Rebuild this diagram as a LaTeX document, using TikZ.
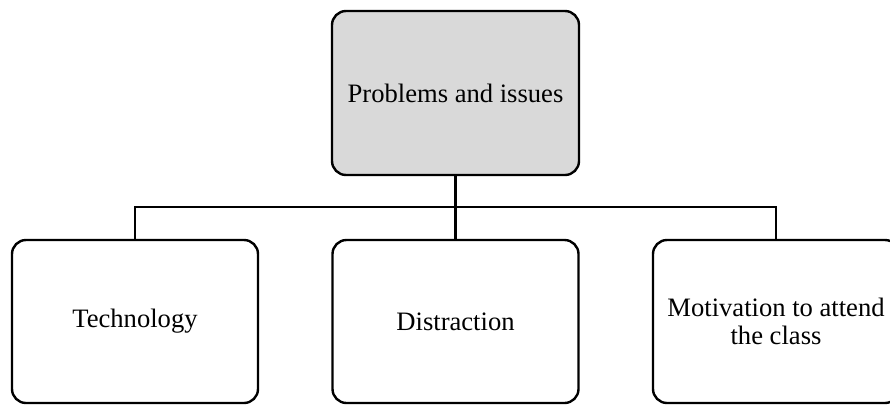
\documentclass[tikz,border=0pt]{standalone}
\usepackage{fontspec}
\setmainfont{Liberation Serif}
\begin{document}
\begin{tikzpicture}[x=1pt,y=1pt,
  box/.style={draw=black, line width=2.4pt, rounded corners=14pt, minimum width=246pt, minimum height=163pt, align=center, inner sep=0pt, font=\fontsize{26.6}{27.5}\selectfont},
  conn/.style={draw=black, line width=2.4pt}]
\useasboundingbox (0,0) rectangle (890,-405);
\clip (0,0) rectangle (890,-405);
\node[box, fill={rgb,255:red,217;green,217;blue,217}, minimum width=247pt, minimum height=164pt] (top) at (455.5,-93) {Problems and issues};
\node[box] (tech) at (135,-321.5) {Technology};
\node[box] (dist) at (455.5,-321.5) {Distraction};
\node[box] (moti) at (776,-321.5) {Motivation to attend\\the class};
\coordinate (bus) at (455.5,-207);
\draw[conn] (top.south) -- (bus);
\draw[conn] (tech.north) |- (bus) -| (moti.north);
\draw[conn] (bus) -- (dist.north);
\end{tikzpicture}
\end{document}
